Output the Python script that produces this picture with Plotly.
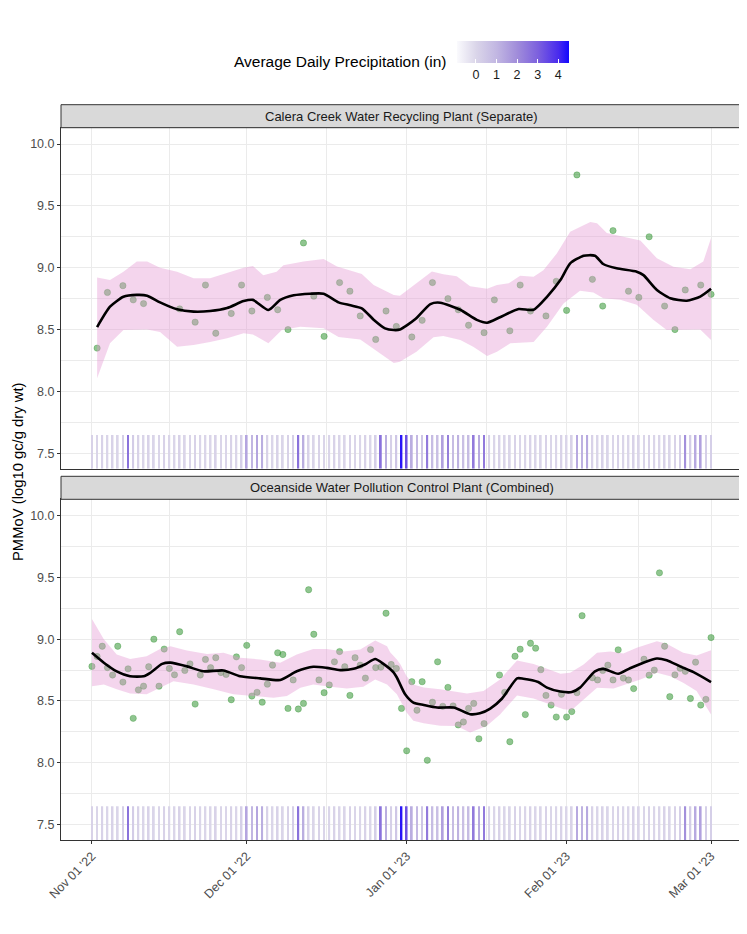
import pandas as pd
import plotly.graph_objects as go

START = pd.Timestamp("2022-11-01")

# ---------------- data (days are offsets from 2022-11-01) ----------------
top_days = [1, 3, 6, 8, 10, 17, 20, 22, 24, 27, 29, 31, 34, 36, 38, 41, 43, 45, 48, 50,
            52, 55, 57, 59, 62, 64, 66, 69, 71, 73, 76, 78, 81, 83, 85, 88, 90, 92, 94, 97,
            99, 101, 104, 106, 108, 111, 113, 115, 118, 120]
top_vals = [8.35, 8.80, 8.855, 8.74, 8.71, 8.667, 8.56, 8.86, 8.47, 8.63, 8.86, 8.65, 8.76, 8.66, 8.50,
            9.20, 8.77, 8.445, 8.88, 8.81, 8.61, 8.42, 8.65, 8.525, 8.44, 8.575, 8.88, 8.75, 8.66, 8.535,
            8.475, 8.74, 8.49, 8.86, 8.65, 8.61, 8.89, 8.655, 9.75, 8.906, 8.69, 9.30, 8.81, 8.76, 9.25,
            8.69, 8.50, 8.82, 8.86, 8.785]

top_fit_days = [1.0, 3.5, 6.1, 8.7, 10.7, 13.2, 16.5, 19.7, 22.9, 26.2, 29.4, 31.2, 34.2, 36.5, 39.1,
                42.3, 44.9, 47.8, 50.1, 52.3, 54.6, 56.8, 58.5, 59.7, 62.7, 65.6, 67.5, 71.4, 74.6,
                76.6, 79.1, 82.7, 85.6, 88.2, 90.8, 92.7, 95.3, 97.5, 99.1, 101.7, 105.6, 106.9,
                109.5, 112.1, 115.3, 117.9, 120.0]
top_fit = [8.52, 8.685, 8.765, 8.78, 8.774, 8.72, 8.664, 8.645, 8.65, 8.674, 8.73, 8.74, 8.658, 8.74, 8.777,
           8.79, 8.79, 8.72, 8.696, 8.672, 8.58, 8.51, 8.496, 8.50, 8.585, 8.706, 8.717, 8.66, 8.578,
           8.555, 8.60, 8.666, 8.66, 8.765, 8.90, 9.035, 9.097, 9.097, 9.03, 8.995, 8.968, 8.94,
           8.82, 8.753, 8.733, 8.766, 8.83]

top_hi_days = [1.0, 3.5, 6.1, 8.7, 10.7, 13.2, 16.5, 19.7, 22.9, 26.2, 29.4, 31.2, 33.2, 35.8, 37.1,
               41.0, 44.9, 47.5, 52.3, 54.6, 58.5, 59.7, 62.9, 65.9, 68.1, 70.7, 73.3, 76.6, 78.5,
               80.8, 83.0, 85.6, 87.5, 90.1, 92.7, 96.6, 97.9, 99.8, 103.0, 106.3, 109.5, 112.7,
               116.0, 118.5, 120.0]
top_hi = [8.92, 8.90, 8.968, 9.05, 9.05, 9.0, 8.968, 8.915, 8.915, 8.96, 9.0, 9.014, 8.94, 8.968, 9.02,
          9.05, 9.07, 9.01, 8.95, 8.86, 8.78, 8.774, 8.874, 8.97, 8.947, 8.93, 8.85, 8.83, 8.86,
          8.874, 8.935, 8.927, 8.98, 9.115, 9.29, 9.37, 9.36, 9.28, 9.25, 9.22, 9.076, 9.008,
          8.987, 9.05, 9.24]

top_lo_days = [1.0, 3.5, 6.1, 10.7, 13.2, 16.5, 19.7, 22.9, 26.2, 29.4, 31.2, 34.2, 36.8, 40.4, 44.9,
               47.8, 52.0, 54.6, 58.5, 59.7, 62.9, 66.2, 68.1, 71.4, 73.9, 76.6, 78.5, 81.1, 85.6,
               88.2, 91.4, 94.6, 97.2, 99.1, 102.4, 105.6, 108.8, 111.4, 114.6, 117.9, 120.0]
top_lo = [8.106, 8.39, 8.496, 8.50, 8.48, 8.36, 8.375, 8.40, 8.43, 8.47, 8.46, 8.39, 8.496, 8.523, 8.51,
          8.44, 8.42, 8.345, 8.23, 8.24, 8.32, 8.437, 8.448, 8.415, 8.36, 8.286, 8.32, 8.39, 8.40,
          8.523, 8.71, 8.814, 8.80, 8.753, 8.74, 8.70, 8.58, 8.496, 8.496, 8.50, 8.415]

bot_days = list(range(0, 77)) + [79, 80, 81, 82, 83, 84, 85, 86, 87, 88, 89, 90, 91, 92, 93, 94, 95,
                                 97, 98, 99, 100, 101, 102, 103, 104, 105, 107, 108, 109, 110, 111,
                                 112, 113, 114, 115, 116, 117, 118, 119, 120]
bot_vals = [8.78, 8.86, 8.943, 8.77, 8.71, 8.943, 8.653, 8.76, 8.36, 8.59, 8.62, 8.777, 9.0, 8.62, 8.92,
            8.763, 8.712, 9.06, 8.747, 8.80, 8.475, 8.71, 8.836, 8.77, 8.85, 8.73, 8.715, 8.51, 8.857,
            8.77, 8.95, 8.54, 8.57, 8.49, 8.636, 8.79, 8.89, 8.876, 8.44, 8.67, 8.435, 8.48, 9.40,
            9.04, 8.67, 8.567, 8.63, 8.817, 8.90, 8.777, 8.545, 8.85, 8.79, 8.685, 8.916, 8.77, 8.774,
            9.21, 8.795, 8.763,
            8.44, 8.097, 8.656, 8.425, 8.656, 8.02, 8.49, 8.817, 8.457, 8.61, 8.46, 8.306, 8.33, 8.44,
            8.48, 8.194, 8.317,
            8.71, 8.57, 8.17, 8.862, 8.919, 8.39, 8.967, 8.927, 8.753, 8.545, 8.467, 8.37, 8.554, 8.37,
            8.414, 8.567, 9.19,
            8.688, 8.67, 8.747, 8.79, 8.67, 8.914, 8.685, 8.67, 8.60, 8.838, 8.709, 8.75, 9.537, 8.943,
            8.535, 8.712, 8.765, 8.74, 8.52, 8.814, 8.467, 8.513, 9.013]

bot_fit_days = [0, 2.3, 4.8, 7.4, 10.0, 11.3, 13.6, 15.2, 18.4, 21.6, 25.5, 28.7, 32.6, 36.5, 39.7,
                42.9, 45.5, 48.1, 50.7, 52.9, 54.9, 56.5, 58.5, 59.1, 60.7, 62.3, 64.3, 66.9, 70.1,
                73.3, 75.2, 77.2, 79.5, 82.4, 83.6, 86.5, 88.2, 90.8, 93.0, 94.6, 97.5, 99.1, 102.0,
                104.3, 106.9, 109.5, 111.4, 114.0, 116.6, 120.0]
bot_fit = [8.89, 8.81, 8.74, 8.70, 8.70, 8.728, 8.80, 8.81, 8.78, 8.74, 8.747, 8.70, 8.683, 8.67, 8.74,
           8.777, 8.768, 8.75, 8.76, 8.795, 8.84, 8.80, 8.73, 8.69, 8.554, 8.487, 8.468, 8.447, 8.447,
           8.393, 8.40, 8.438, 8.52, 8.683, 8.68, 8.653, 8.608, 8.576, 8.572, 8.608, 8.74, 8.76, 8.72,
           8.765, 8.81, 8.844, 8.83, 8.78, 8.733, 8.653]

bot_hi_days = [0, 2.3, 4.8, 7.4, 10.6, 13.2, 15.2, 18.4, 22.3, 25.5, 28.7, 32.6, 36.5, 39.7, 42.9,
               45.5, 48.8, 52.0, 54.9, 57.2, 57.8, 59.1, 59.8, 61.0, 62.3, 64.3, 67.5, 70.1, 72.7,
               75.9, 79.1, 82.4, 85.6, 88.2, 90.8, 92.7, 95.3, 97.9, 100.5, 103.0, 105.6, 109.5,
               111.4, 114.6, 117.2, 120.0]
bot_hi = [9.163, 9.0, 8.876, 8.84, 8.862, 8.92, 8.943, 8.908, 8.88, 8.89, 8.85, 8.836, 8.81, 8.876, 8.92,
          8.92, 8.90, 8.916, 8.99, 8.943, 8.895, 8.836, 8.795, 8.70, 8.634, 8.61, 8.594, 8.58, 8.56,
          8.58, 8.674, 8.828, 8.80, 8.76, 8.72, 8.728, 8.795, 8.89, 8.90, 8.884, 8.93, 8.983,
          8.964, 8.89, 8.868, 8.91]

bot_lo_days = [0, 2.3, 4.8, 7.4, 10.6, 13.2, 15.8, 19.7, 23.6, 27.4, 31.3, 35.2, 37.8, 40.4, 42.9,
               46.2, 49.4, 52.6, 54.9, 57.2, 59.1, 59.8, 61.0, 62.3, 64.3, 67.5, 70.7, 73.3, 76.5,
               79.1, 82.4, 85.6, 88.2, 91.4, 93.0, 95.3, 97.9, 101.1, 103.7, 106.3, 109.5, 112.1,
               114.6, 117.2, 120.0]
bot_lo = [8.62, 8.634, 8.594, 8.56, 8.554, 8.608, 8.66, 8.634, 8.594, 8.554, 8.54, 8.527, 8.54, 8.608,
          8.634, 8.616, 8.60, 8.616, 8.674, 8.634, 8.554, 8.50, 8.406, 8.34, 8.32, 8.30, 8.298, 8.245,
          8.298, 8.39, 8.545, 8.52, 8.48, 8.433, 8.427, 8.513, 8.608, 8.60, 8.634, 8.674, 8.728,
          8.70, 8.648, 8.58, 8.39]

# daily precipitation, Nov 01 2022 .. Mar 01 2023 (121 days)
precip = [0.1, 0.0, 0.1, 0.0, 0.1, 0.0, 0.2, 2.6, 0.3, 0.1,
          0.0, 0.1, 0.0, 0.0, 0.1, 0.0, 0.0, 0.1, 0.0, 0.0,
          0.1, 0.0, 0.0, 0.0, 0.1, 0.0, 0.0, 0.1, 0.0, 0.2,
          1.4, 1.0, 1.4, 1.2, 0.1, 0.0, 0.1, 0.0, 0.1, 0.2,
          2.6, 1.2, 0.1, 0.0, 0.1, 0.0, 0.0, 0.1, 0.0, 0.0,
          0.1, 0.0, 0.0, 0.1, 0.0, 0.2, 2.6, 1.2, 0.2, 0.5,
          4.3, 3.3, 1.2, 0.9, 0.5, 2.4, 0.8, 0.7, 1.5, 2.3,
          0.8, 1.1, 0.7, 0.8, 2.4, 1.3, 2.4, 0.1, 0.0, 0.1,
          0.0, 0.0, 0.1, 0.0, 0.0, 0.1, 0.0, 0.0, 0.1, 0.0,
          0.0, 0.1, 0.0, 0.1, 1.3, 1.1, 1.3, 0.1, 0.0, 0.1,
          0.0, 0.0, 0.1, 0.0, 0.0, 0.1, 0.0, 0.0, 0.1, 0.0,
          0.0, 0.1, 0.0, 0.1, 0.2, 1.9, 0.3, 1.3, 1.5, 0.2,
          0.2]

precip_ticks = [0, 1, 2, 3, 4]
y_ticks = [7.5, 8.0, 8.5, 9.0, 9.5, 10.0]
y_minor = [7.75, 8.25, 8.75, 9.25, 9.75]
x_ticks = ["2022-11-01", "2022-12-01", "2023-01-01", "2023-02-01", "2023-03-01"]
x_minor = ["2022-11-16", "2022-12-16 12:00", "2023-01-16 12:00", "2023-02-15"]
panel_titles = ["Calera Creek Water Recycling Plant (Separate)",
                "Oceanside Water Pollution Control Plant (Combined)"]


def to_dates(days):
    return [START + pd.Timedelta(days=float(d)) for d in days]


# ---------------- styling ----------------
FONT = "Liberation Sans, Arial, sans-serif"
Y_RANGE = [7.375, 10.132]
X_RANGE = ["2022-10-26", "2023-03-07"]
RUG_TOP = 7.648
C_MIN, C_MAX = -0.94, 4.5
scale_pts = [(C_MIN, (250, 250, 253)), (0, (218, 213, 233)), (1, (193, 182, 226)),
             (2, (160, 140, 218)), (3, (124, 96, 222)), (4, (72, 42, 238)), (C_MAX, (18, 8, 255))]
colorscale = [[(v - C_MIN) / (C_MAX - C_MIN), "rgb(%d,%d,%d)" % c] for v, c in scale_pts]

PT_COLOR = "rgba(34,139,34,0.5)"
RIBBON = "rgba(228,150,210,0.4)"

# page body has an 8px margin; the figure is sized so the plot lands at the reference pixels
W, H = 739, 926
ML, MR, MT, MB = 53, 5, 96, 94
PH = H - MT - MB          # plot-area height (736)
PW = W - ML - MR          # plot-area width (681)
OFF = 8


def py(p):                 # page pixel y -> paper fraction
    return (H - MB + OFF - p) / PH


def px(p):                 # page pixel x -> paper fraction
    return (p - OFF - ML) / PW


fig = go.Figure()
panels = [
    ("x", "y", top_days, top_vals, top_fit_days, top_fit, top_hi_days, top_hi, top_lo_days, top_lo),
    ("x2", "y2", bot_days, bot_vals, bot_fit_days, bot_fit, bot_hi_days, bot_hi, bot_lo_days, bot_lo),
]
rug_dates = to_dates(range(len(precip)))
for i, (xa, ya, d, v, fd, f, hd, h, ld, lo) in enumerate(panels):
    fig.add_trace(go.Bar(
        x=rug_dates, y=[RUG_TOP - Y_RANGE[0]] * len(precip), base=Y_RANGE[0],
        width=0.34 * 86400000, xaxis=xa, yaxis=ya, hoverinfo="skip",
        marker=dict(color=precip, colorscale=colorscale, cmin=C_MIN, cmax=C_MAX,
                    line=dict(width=0), showscale=(i == 0),
                    colorbar=dict(orientation="h", x=px(512.5), xanchor="center",
                                  y=py(41), yanchor="top",
                                  len=111.6, lenmode="pixels", thickness=22.3,
                                  thicknessmode="pixels", xpad=0, ypad=0, outlinewidth=0,
                                  tickvals=precip_ticks, ticks="inside", ticklen=4,
                                  tickcolor="white", tickwidth=1,
                                  tickfont=dict(size=12.5, color="#1a1a1a", family=FONT))),
    ))
    fig.add_trace(go.Scatter(
        x=to_dates(d), y=v, mode="markers", xaxis=xa, yaxis=ya,
        marker=dict(size=6.3, color=PT_COLOR, line=dict(width=0.7, color="rgba(34,139,34,0.45)")),
    ))
    fig.add_trace(go.Scatter(
        x=to_dates(hd) + to_dates(ld)[::-1], y=h + lo[::-1], mode="lines",
        fill="toself", fillcolor=RIBBON, line=dict(width=0), xaxis=xa, yaxis=ya,
        hoverinfo="skip",
    ))
    fig.add_trace(go.Scatter(
        x=to_dates(fd), y=f, mode="lines", xaxis=xa, yaxis=ya,
        line=dict(color="black", width=2.6, shape="spline", smoothing=0.6),
    ))

grid = "#ebebeb"
common_x = dict(type="date", range=X_RANGE, tickvals=x_ticks, showgrid=True, gridcolor=grid,
                gridwidth=1.1, zeroline=False, showline=True, mirror=True, linecolor="#333333",
                linewidth=1, automargin=False,
                minor=dict(tickvals=x_minor, showgrid=True, gridcolor=grid, gridwidth=0.55))
common_y = dict(range=Y_RANGE, tickvals=y_ticks, tickformat=".1f", showgrid=True, gridcolor=grid,
                gridwidth=1.1, zeroline=False, showline=True, mirror=True, linecolor="#333333",
                linewidth=1, ticks="outside", ticklen=3, tickcolor="#333333", automargin=False,
                tickfont=dict(size=12.5, color="#4d4d4d", family=FONT),
                minor=dict(tickvals=y_minor, showgrid=True, gridcolor=grid, gridwidth=0.55))

top_dom = [py(468.7), py(127.7)]
bot_dom = [0, py(499.3)]

fig.update_layout(
    width=W, height=H, margin=dict(l=ML, r=MR, t=MT, b=MB, autoexpand=False),
    paper_bgcolor="white", plot_bgcolor="white", showlegend=False,
    font=dict(family=FONT),
    xaxis=dict(common_x, anchor="y", showticklabels=False, ticks=""),
    xaxis2=dict(common_x, anchor="y2", matches="x", showticklabels=True, ticks="outside",
                ticklen=3, tickcolor="#333333", tickangle=-45, tickformat="%b %d '%y",
                tickfont=dict(size=12.5, color="#4d4d4d", family=FONT)),
    yaxis=dict(common_y, domain=top_dom, anchor="x"),
    yaxis2=dict(common_y, domain=bot_dom, anchor="x2"),
)

strips = [(py(127.7), py(104.7)), (py(499.3), py(476.3))]
for (y0, y1), title in zip(strips, panel_titles):
    fig.add_shape(type="rect", xref="paper", yref="paper", x0=0, x1=1, y0=y0, y1=y1,
                  fillcolor="#d9d9d9", line=dict(color="#333333", width=1))
    fig.add_annotation(text=title, xref="paper", yref="paper", x=0.5, y=(y0 + y1) / 2,
                       showarrow=False, xanchor="center", yanchor="middle",
                       font=dict(size=13, color="#1a1a1a", family=FONT))

fig.add_annotation(text="PMMoV (log10 gc/g dry wt)", xref="paper", yref="paper",
                   x=px(18), y=py(472), textangle=-90, showarrow=False,
                   xanchor="center", yanchor="middle",
                   font=dict(size=14.8, color="black", family=FONT))
fig.add_annotation(text="Average Daily Precipitation (in)", xref="paper", yref="paper",
                   x=px(449), y=py(62), showarrow=False,
                   xanchor="right", yanchor="middle",
                   font=dict(size=15.5, color="black", family=FONT))

fig.write_html("out.html")
